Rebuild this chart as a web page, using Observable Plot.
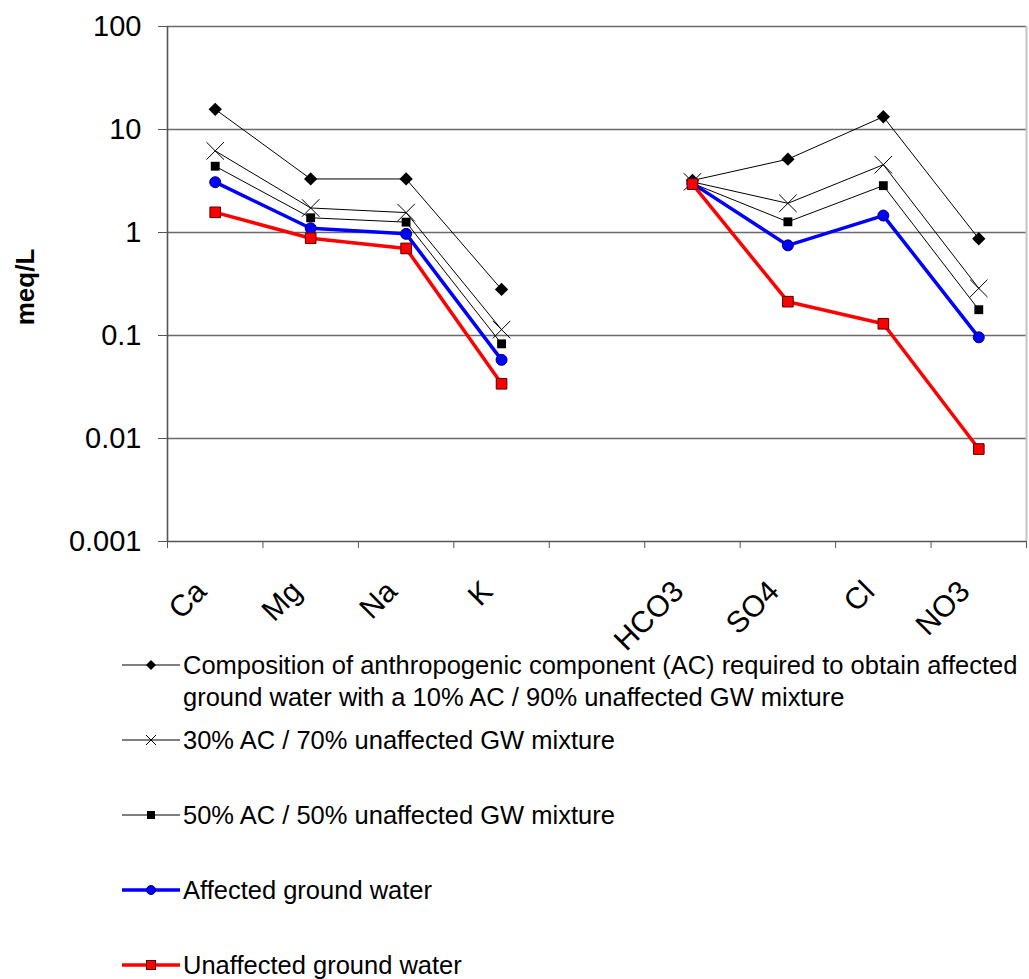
<!DOCTYPE html>
<html><head><meta charset="utf-8">
<script src="https://cdn.jsdelivr.net/npm/d3@7"></script>
<script src="https://cdn.jsdelivr.net/npm/@observablehq/plot@0.6"></script>
<style>
body{margin:0;background:#fff;font-family:"Liberation Sans",Arial,sans-serif;}
#wrap{position:relative;width:1029px;height:979px;overflow:hidden}
#ylab{position:absolute;left:25px;top:287px;transform:translate(-50%,-50%) rotate(-90deg);font-weight:bold;font-size:26px;white-space:nowrap}
.leg{position:absolute;left:122px;display:flex;align-items:flex-start;font-size:25.5px;line-height:32px;color:#000}
.leg svg{flex:none;margin-right:3px}
.leg span{max-width:845px}
</style>
</head><body><div id="wrap"><div id="ylab">meq/L</div></div>
<script>
// Categories (empty slot separates cations and anions)
const ions = ["Ca","Mg","Na","K","","HCO3","SO4","Cl","NO3"];
// Series values (meq/L), null = no value in the gap slot
const ac10 = [15.7, 3.31, 3.31, 0.28, null, 3.2, 5.15, 13.3, 0.87];
const ac30 = [6.2, 1.73, 1.56, 0.114, null, 3.1, 1.92, 4.55, 0.287];
const ac50 = [4.4, 1.39, 1.26, 0.083, null, 3.0, 1.27, 2.85, 0.178];
const affected = [3.08, 1.10, 0.97, 0.058, null, 3.0, 0.75, 1.46, 0.096];
const unaffected = [1.57, 0.88, 0.70, 0.034, null, 2.95, 0.213, 0.130, 0.0079];
const yTicks = [100, 10, 1, 0.1, 0.01, 0.001];
const legendLabels = [
  "Composition of anthropogenic component (AC) required to obtain affected ground water with a 10% AC / 90% unaffected GW mixture",
  "30% AC / 70% unaffected GW mixture",
  "50% AC / 50% unaffected GW mixture",
  "Affected ground water",
  "Unaffected ground water"
];

const toRows = (arr) => arr.map((v, i) => ({i: i + 0.5, v}));
const s10 = toRows(ac10), s30 = toRows(ac30), s50 = toRows(ac50), sA = toRows(affected), sU = toRows(unaffected);
const labelRows = ions.map((c, i) => ({i: i + 0.5, c})).filter(d => d.c);

const chart = Plot.plot({
  width: 1029,
  height: 680,
  marginLeft: 167,
  marginRight: 3,
  marginTop: 26,
  marginBottom: 139,
  style: {fontFamily: '"Liberation Sans", Arial, sans-serif', background: "transparent", overflow: "visible"},
  x: {type: "linear", domain: [0, ions.length]},
  y: {type: "log", domain: [0.001, 100]},
  marks: [
    Plot.ruleY(yTicks.slice(0, 5), {stroke: "#6a6a6a", strokeWidth: 1.3}),
    Plot.ruleX([ions.length], {stroke: "#c4c4c4", strokeWidth: 2}),
    Plot.axisY({ticks: yTicks, tickFormat: d => String(d), tickSize: 9, tickPadding: 17, fontSize: 29, label: null, stroke: "#555", color: "#000"}),
    Plot.axisX({ticks: d3.range(ions.length + 1), tickFormat: () => "", tickSize: 7, label: null, stroke: "#555"}),
    Plot.ruleX([0], {stroke: "#555", strokeWidth: 1.6}),
    Plot.ruleY([0.001], {stroke: "#555", strokeWidth: 1.6}),
    Plot.text(labelRows, {x: "i", y: () => 0.001, text: "c", rotate: -45, textAnchor: "end", dx: -14, dy: 45, fontSize: 30, fill: "#000"}),
    // series lines
    Plot.line(s10, {x: "i", y: "v", stroke: "#000", strokeWidth: 1}),
    Plot.line(s30, {x: "i", y: "v", stroke: "#000", strokeWidth: 1}),
    Plot.line(s50, {x: "i", y: "v", stroke: "#000", strokeWidth: 1}),
    Plot.line(sA, {x: "i", y: "v", stroke: "#0000ff", strokeWidth: 3.5}),
    Plot.line(sU, {x: "i", y: "v", stroke: "#ff0000", strokeWidth: 3.5}),
    // markers
    Plot.dot(s10, {x: "i", y: "v", symbol: "diamond2", r: 6, fill: "#000"}),
    Plot.dot(s30, {x: "i", y: "v", symbol: "times", r: 8, stroke: "#000", strokeWidth: 1}),
    Plot.dot(s50, {x: "i", y: "v", symbol: "square", r: 5, fill: "#000"}),
    Plot.dot(sA, {x: "i", y: "v", symbol: "circle", r: 5.5, fill: "#0000ff", stroke: "#000066", strokeWidth: 1}),
    Plot.dot(sU, {x: "i", y: "v", symbol: "square", r: 6, fill: "#ff0000", stroke: "#550000", strokeWidth: 1})
  ]
});
chart.style.position = "absolute";
chart.style.left = "0px";
chart.style.top = "0px";
const wrap = document.getElementById("wrap");
wrap.appendChild(chart);

// Legend
const legSpecs = [
  {top: 649, color: "#000", w: 1, sym: "diamond"},
  {top: 724, color: "#000", w: 1, sym: "times"},
  {top: 799, color: "#000", w: 1, sym: "square"},
  {top: 874, color: "#0000ff", w: 3.5, sym: "circleBlue"},
  {top: 949, color: "#ff0000", w: 3.5, sym: "squareRed"}
];
legSpecs.forEach((s, k) => {
  const div = document.createElement("div");
  div.className = "leg";
  div.style.top = s.top + "px";
  const ns = "http://www.w3.org/2000/svg";
  const svg = document.createElementNS(ns, "svg");
  svg.setAttribute("width", 58); svg.setAttribute("height", 32);
  const ln = document.createElementNS(ns, "line");
  ln.setAttribute("x1", 0); ln.setAttribute("x2", 58); ln.setAttribute("y1", 16); ln.setAttribute("y2", 16);
  ln.setAttribute("stroke", s.color); ln.setAttribute("stroke-width", s.w);
  svg.appendChild(ln);
  let m;
  if (s.sym === "diamond") {
    m = document.createElementNS(ns, "path"); m.setAttribute("d", "M29,11L34,16L29,21L24,16Z"); m.setAttribute("fill", "#000");
  } else if (s.sym === "times") {
    m = document.createElementNS(ns, "path"); m.setAttribute("d", "M24,11L34,21M34,11L24,21"); m.setAttribute("stroke", "#000"); m.setAttribute("stroke-width", 1);
  } else if (s.sym === "square") {
    m = document.createElementNS(ns, "rect"); m.setAttribute("x", 25); m.setAttribute("y", 12); m.setAttribute("width", 8); m.setAttribute("height", 8); m.setAttribute("fill", "#000");
  } else if (s.sym === "circleBlue") {
    m = document.createElementNS(ns, "circle"); m.setAttribute("cx", 29); m.setAttribute("cy", 16); m.setAttribute("r", 4.5); m.setAttribute("fill", "#0000ff"); m.setAttribute("stroke", "#000066");
  } else {
    m = document.createElementNS(ns, "rect"); m.setAttribute("x", 24.5); m.setAttribute("y", 11.5); m.setAttribute("width", 9); m.setAttribute("height", 9); m.setAttribute("fill", "#ff0000"); m.setAttribute("stroke", "#550000");
  }
  svg.appendChild(m);
  div.appendChild(svg);
  const span = document.createElement("span");
  span.textContent = legendLabels[k];
  div.appendChild(span);
  wrap.appendChild(div);
});
</script>
</body></html>
